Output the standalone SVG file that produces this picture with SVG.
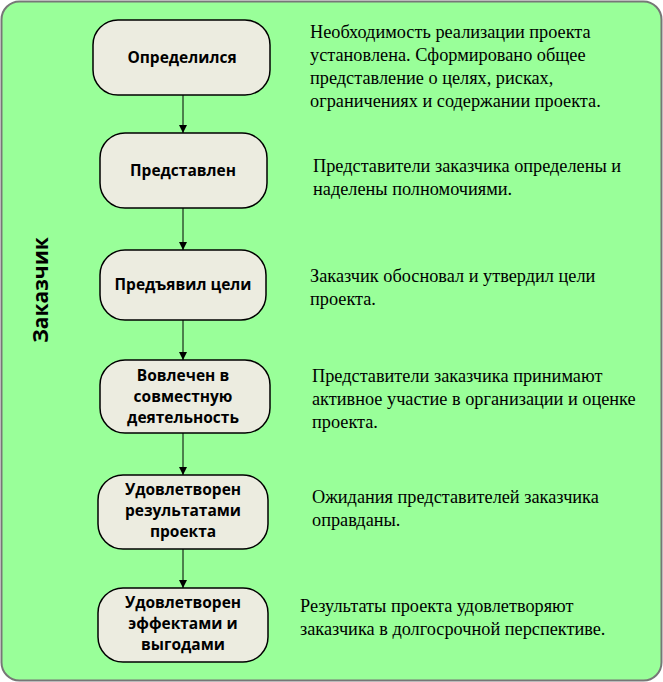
<svg xmlns="http://www.w3.org/2000/svg" width="663" height="682" viewBox="0 0 663 682">
<defs>
<marker id="ar" viewBox="0 0 10 10" refX="10" refY="5" markerWidth="8" markerHeight="8" markerUnits="userSpaceOnUse" orient="auto"><path d="M0,0 L10,5 L0,10 z" fill="#000"/></marker>
<style>
.n{fill:#ECECE0;stroke:#000;stroke-width:1.5}
.t{font-family:"Open Sans","DejaVu Sans",sans-serif;font-weight:bold;font-size:15.5px;text-anchor:middle;fill:#000}
.d{font-family:"Liberation Serif",serif;font-size:18.3px;fill:#000}
.c{stroke:#000;stroke-width:1;fill:none;marker-end:url(#ar)}
</style>
</defs>
<rect x="1.5" y="1.5" width="660" height="679" rx="18" fill="#99FF99" stroke="#777" stroke-width="2"/>
<text transform="translate(48,290) rotate(-90)" font-family="Open Sans,DejaVu Sans,sans-serif" font-weight="bold" font-size="21" text-anchor="middle">Заказчик</text>
<g id="connectors">
<line class="c" x1="183" y1="95" x2="183" y2="133"/>
<line class="c" x1="183" y1="208" x2="183" y2="250"/>
<line class="c" x1="183" y1="320" x2="183" y2="360"/>
<line class="c" x1="183" y1="433" x2="183" y2="475"/>
<line class="c" x1="183" y1="549" x2="183" y2="588"/>
</g>
<g id="n1"><rect class="n" x="93" y="20" width="177" height="75" rx="25"/><text class="t" x="182" y="63">Определился</text>
<text class="d" x="310" y="38">Необходимость реализации проекта</text><text class="d" x="310" y="61">установлена. Сформировано общее</text><text class="d" x="310" y="84">представление о целях, рисках,</text><text class="d" x="310" y="107">ограничениях и содержании проекта.</text></g>
<g id="n2"><rect class="n" x="100" y="133" width="167" height="75" rx="25"/><text class="t" x="183" y="176">Представлен</text>
<text class="d" x="313" y="172">Представители заказчика определены и</text><text class="d" x="313" y="195">наделены полномочиями.</text></g>
<g id="n3"><rect class="n" x="100" y="250" width="166" height="70" rx="25"/><text class="t" x="183" y="290">Предъявил цели</text>
<text class="d" x="310" y="282">Заказчик обосновал и утвердил цели</text><text class="d" x="310" y="305">проекта.</text></g>
<g id="n4"><rect class="n" x="100" y="360" width="170" height="73" rx="25"/><text class="t" x="183" y="381">Вовлечен в</text><text class="t" x="183" y="402">совместную</text><text class="t" x="183" y="423">деятельность</text>
<text class="d" x="312" y="382">Представители заказчика принимают</text><text class="d" x="312" y="405">активное участие в организации и оценке</text><text class="d" x="312" y="428">проекта.</text></g>
<g id="n5"><rect class="n" x="98" y="475" width="170" height="74" rx="25"/><text class="t" x="183" y="495">Удовлетворен</text><text class="t" x="183" y="516">результатами</text><text class="t" x="183" y="537">проекта</text>
<text class="d" x="312" y="503">Ожидания представителей заказчика</text><text class="d" x="312" y="526">оправданы.</text></g>
<g id="n6"><rect class="n" x="98" y="588" width="170" height="74" rx="25"/><text class="t" x="183" y="608">Удовлетворен</text><text class="t" x="183" y="629">эффектами и</text><text class="t" x="183" y="650">выгодами</text>
<text class="d" x="300" y="612">Результаты проекта удовлетворяют</text><text class="d" x="300" y="635">заказчика в долгосрочной перспективе.</text></g>
</svg>
